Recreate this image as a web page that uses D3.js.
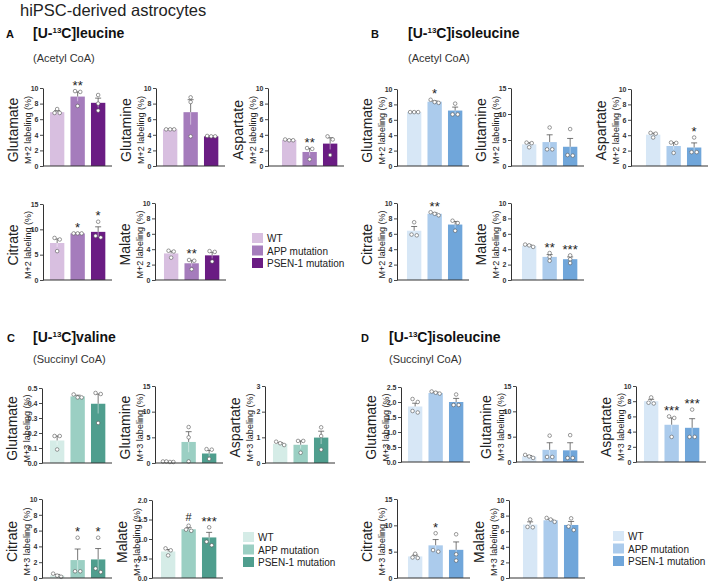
<html>
<head>
<style>
  body { margin: 0; background: white; }
  svg text { font-family: "Liberation Sans", Arial, sans-serif; }
</style>
<script src="https://d3js.org/d3.v7.min.js"></script>
</head>
<body>
<script>
// groups and metabolites
var groups = ["WT", "APP mutation", "PSEN-1 mutation"];
var metabolites = ["Glutamate", "Glutamine", "Aspartate", "Citrate", "Malate"];

// A: [U-13C]leucine (Acetyl CoA), M+2
var leucineMeans = [[6.9, 8.9, 8.1], [4.7, 6.9, 3.8], [3.33, 1.8, 2.87], [7.3, 9.2, 9.5], [3.45, 2.17, 3.2]];
var leucineSems = [[0.2, 0.6, 0.6], [0.05, 1.6, 0.03], [0.05, 0.45, 0.75], [0.8, 0.05, 1.0], [0.28, 0.38, 0.4]];
var leucinePoints = [
  [[7.3, 6.8, 6.8], [9.6, 9.5, 7.7], [9.1, 8.0, 7.1]],
  [[4.7, 4.7, 4.7], [8.8, 8.2, 3.8], [3.8, 3.8, 3.85]],
  [[3.4, 3.3, 3.3], [2.3, 2.2, 0.85], [3.8, 3.4, 1.4]],
  [[8.3, 8.0, 5.7], [9.2, 9.2, 9.2], [11.5, 8.7, 8.4]],
  [[3.8, 3.7, 2.9], [2.6, 2.5, 1.4], [3.75, 3.65, 2.4]]
];
var leucineSig = [["", "**", ""], ["", "", ""], ["", "**", ""], ["", "*", "*"], ["", "**", ""]];
var leucineTicks = [[0, 2, 4, 6, 8, 10], [0, 2, 4, 6, 8, 10], [0, 2, 4, 6, 8, 10], [0, 5, 10, 15], [0, 2, 4, 6, 8, 10]];

// B: [U-13C]isoleucine (Acetyl CoA), M+2
var isoAcetylMeans = [[7.0, 8.35, 7.2], [4.17, 4.6, 3.7], [4.07, 2.6, 2.4], [6.4, 8.6, 7.2], [4.45, 3.0, 2.7]];
var isoAcetylSems = [[0.03, 0.1, 0.45], [0.3, 1.4, 1.6], [0.2, 0.45, 0.6], [0.55, 0.12, 0.4], [0.1, 0.3, 0.3]];
var isoAcetylPoints = [
  [[7.0, 7.0, 7.0], [8.6, 8.3, 8.2], [8.1, 6.7, 6.7]],
  [[4.5, 4.4, 3.6], [7.4, 3.2, 3.2], [7.1, 2.1, 2.0]],
  [[4.3, 4.2, 3.7], [3.05, 3.0, 1.7], [3.7, 1.8, 1.8]],
  [[7.5, 5.9, 5.8], [8.8, 8.6, 8.4], [7.7, 7.4, 6.4]],
  [[4.6, 4.5, 4.3], [3.5, 3.0, 2.5], [3.2, 2.7, 2.2]]
];
var isoAcetylSig = [["", "*", ""], ["", "", ""], ["", "", "*"], ["", "**", ""], ["", "**", "***"]];
var isoAcetylTicks = [[0, 2, 4, 6, 8, 10], [0, 5, 10, 15], [0, 2, 4, 6, 8, 10], [0, 2, 4, 6, 8, 10], [0, 2, 4, 6, 8, 10]];

// C: [U-13C]valine (Succinyl CoA), M+3
var valineMeans = [[0.15, 0.444, 0.395], [0.25, 4.1, 1.85], [0.75, 0.71, 0.99], [0.33, 2.27, 2.35], [0.68, 1.25, 1.04]];
var valineSems = [[0.03, 0.008, 0.065], [0.03, 2.0, 0.6], [0.04, 0.15, 0.25], [0.12, 1.4, 1.38], [0.05, 0.04, 0.13]];
var valinePoints = [
  [[0.18, 0.18, 0.09], [0.457, 0.437, 0.437], [0.467, 0.46, 0.267]],
  [[0.3, 0.2, 0.2, 0.3], [7.0, 5.0, 0.3], [2.7, 2.6, 0.8]],
  [[0.83, 0.77, 0.7], [0.86, 0.86, 0.4], [1.39, 1.05, 0.52]],
  [[0.55, 0.3, 0.15], [5.1, 0.85, 0.85], [5.1, 1.2, 0.75]],
  [[0.76, 0.71, 0.58], [1.34, 1.24, 1.21], [1.3, 0.93, 0.84]]
];
var valineSig = [["", "", ""], ["", "", ""], ["", "", ""], ["", "*", "*"], ["", "#", "***"]];
var valineTicks = [[0, 0.1, 0.2, 0.3, 0.4, 0.5], [0, 5, 10, 15], [0, 1, 2, 3], [0, 2, 4, 6, 8, 10], [0, 0.5, 1, 1.5, 2]];

// D: [U-13C]isoleucine (Succinyl CoA), M+3
var isoSuccMeans = [[1.85, 2.3, 2.0], [1.1, 2.4, 2.3], [8.0, 4.9, 4.5], [4.1, 6.2, 5.35], [6.85, 7.4, 6.8]];
var isoSuccSems = [[0.11, 0.03, 0.12], [0.17, 1.4, 1.5], [0.25, 0.9, 1.2], [0.25, 1.1, 1.5], [0.35, 0.12, 0.45]];
var isoSuccPoints = [
  [[2.1, 2.0, 1.7, 1.65], [2.35, 2.31, 2.28], [2.25, 1.9, 1.9]],
  [[1.4, 1.1, 0.8], [5.2, 1.0, 1.0], [5.3, 0.8, 0.8]],
  [[8.5, 7.8, 7.7], [6.0, 5.8, 3.3], [6.9, 3.3, 3.3]],
  [[4.6, 3.9, 3.8], [8.5, 5.3, 5.0], [8.3, 4.5, 3.3]],
  [[7.5, 6.55, 6.5], [7.7, 7.5, 7.2], [7.65, 6.6, 6.15]]
];
var isoSuccSig = [["", "", ""], ["", "", ""], ["", "***", "***"], ["", "*", ""], ["", "", ""]];
var isoSuccTicks = [[0, 0.5, 1, 1.5, 2, 2.5], [0, 5, 10, 15], [0, 2, 4, 6, 8, 10], [0, 5, 10, 15], [0, 2, 4, 6, 8, 10]];

// colours
var purple = ["#d8bfe0", "#a57cbc", "#6a1c83"];
var blue   = ["#d7e7f6", "#abcbec", "#70a6da"];
var teal   = ["#d5ece7", "#9bcfc3", "#4f9e8e"];

// panel layout: box = [axis x, first bar x, top y, bottom y]
var panels = [
  { letter: "A", lx: 6, tx: 33, ty: 38, amino: "leucine", sub: "(Acetyl CoA)", sy: 62, mass: "M+2", colors: purple,
    means: leucineMeans, sems: leucineSems, points: leucinePoints, sig: leucineSig, ticks: leucineTicks,
    boxes: [[43, 50, 88, 166], [156, 163, 88, 166], [268, 282, 88, 166], [43, 50, 204, 280], [155, 164, 203, 280]],
    legend: [252, 238] },
  { letter: "B", lx: 371, tx: 408, ty: 38, amino: "isoleucine", sub: "(Acetyl CoA)", sy: 62, mass: "M+2", colors: blue,
    means: isoAcetylMeans, sems: isoAcetylSems, points: isoAcetylPoints, sig: isoAcetylSig, ticks: isoAcetylTicks,
    boxes: [[397, 407, 89, 166], [511, 522, 88, 166], [631, 646, 89, 166], [397, 407, 203, 280], [511, 522, 203, 280]],
    legend: null },
  { letter: "C", lx: 7, tx: 33, ty: 342, amino: "valine", sub: "(Succinyl CoA)", sy: 363, mass: "M+3", colors: teal,
    means: valineMeans, sems: valineSems, points: valinePoints, sig: valineSig, ticks: valineTicks,
    boxes: [[42, 50, 388, 463], [155, 161, 386, 463], [265, 273, 386, 463], [42, 50, 499, 578], [152, 161, 500, 578]],
    legend: [243, 537] },
  { letter: "D", lx: 361, tx: 389, ty: 342, amino: "isoleucine", sub: "(Succinyl CoA)", sy: 363, mass: "M+3", colors: blue,
    means: isoSuccMeans, sems: isoSuccSems, points: isoSuccPoints, sig: isoSuccSig, ticks: isoSuccTicks,
    boxes: [[401, 408, 387, 462], [516, 522, 386, 462], [636, 644, 386, 462], [397, 408, 499, 578], [509, 523, 500, 578]],
    legend: [613, 536] }
];

var svg = d3.select("body").append("svg")
  .attr("width", 708)
  .attr("height", 581);

svg.append("text")
  .attr("x", 20).attr("y", 16)
  .style("font-size", "16.5px").style("fill", "#222")
  .text("hiPSC-derived astrocytes");

// spread dots that sit at (nearly) the same height
function swarm(ys) {
  var idx = ys.map(function(v, i) { return i; }).sort(function(a, b) { return ys[a] - ys[b]; });
  var off = new Array(ys.length).fill(0);
  var spreads = { 1: [0], 2: [-2.6, 2.6], 3: [-4, 0, 4], 4: [-5.2, -1.8, 1.8, 5.2] };
  var cluster = [idx[0]];
  function flush() {
    var s = spreads[cluster.length] || spreads[4];
    cluster.forEach(function(k, j) { off[k] = s[j]; });
  }
  for (var i = 1; i < idx.length; i++) {
    if (ys[idx[i]] - ys[cluster[cluster.length - 1]] < 3.6) cluster.push(idx[i]);
    else { flush(); cluster = [idx[i]]; }
  }
  flush();
  return off;
}

function drawChart(p, i) {
  var box = p.boxes[i], ax = box[0], bx = box[1], top = box[2], bottom = box[3];
  var ticks = p.ticks[i];
  var g = svg.append("g");

  var y = d3.scaleLinear().domain([0, d3.max(ticks)]).range([bottom, top]);
  var x = d3.scaleBand().domain(groups).range([bx - 3.1, bx + 58.4])
    .paddingInner(0.3).paddingOuter(0.15);
  var bw = x.bandwidth();

  var fmt = ticks.some(function(t) { return t % 1 !== 0; }) ? d3.format(".1f") : d3.format("d");

  // bars
  g.selectAll("rect.bar").data(groups).enter().append("rect")
    .attr("x", function(d) { return x(d); })
    .attr("y", function(d, j) { return y(p.means[i][j]); })
    .attr("width", bw)
    .attr("height", function(d, j) { return bottom - y(p.means[i][j]); })
    .style("fill", function(d, j) { return p.colors[j]; });

  groups.forEach(function(grp, j) {
    var cx = x(grp) + bw / 2;
    var m = p.means[i][j], s = p.sems[i][j];
    // error bar
    g.append("line").attr("x1", cx).attr("x2", cx).attr("y1", y(m)).attr("y2", y(m + s))
      .style("stroke", "#555").style("stroke-width", 0.8);
    g.append("line").attr("x1", cx - 3).attr("x2", cx + 3).attr("y1", y(m + s)).attr("y2", y(m + s))
      .style("stroke", "#555").style("stroke-width", 0.8);
    g.append("line").attr("x1", cx).attr("x2", cx).attr("y1", y(m)).attr("y2", y(Math.max(0, m - s)))
      .style("stroke", "#fff").style("stroke-opacity", 0.6).style("stroke-width", 0.8);

    // individual points
    var pts = p.points[i][j];
    var ys = pts.map(function(v) { return y(v); });
    var off = swarm(ys);
    g.selectAll(null).data(pts).enter().append("circle")
      .attr("cx", function(d, k) { return cx + off[k]; })
      .attr("cy", function(d) { return y(d); })
      .attr("r", 1.8)
      .style("fill", "white").style("stroke", "#555").style("stroke-width", 0.6);

    // significance
    var mark = p.sig[i][j];
    if (mark) {
      var topmost = Math.min(d3.min(ys), y(m + s));
      g.append("text")
        .attr("x", cx).attr("y", mark === "#" ? topmost - 5 : topmost - 1.5)
        .attr("text-anchor", "middle")
        .style("font-size", mark === "#" ? "11px" : "13px")
        .style("fill", "#222")
        .text(mark);
    }
  });

  // axes
  var yAxis = g.append("g")
    .attr("transform", "translate(" + ax + ",0)")
    .call(d3.axisLeft(y).tickValues(ticks).tickFormat(fmt).tickSize(3).tickSizeOuter(0).tickPadding(1.5));
  yAxis.select(".domain").style("stroke", "#333").style("stroke-width", 1);
  yAxis.selectAll(".tick line").style("stroke", "#333").style("stroke-width", 0.9);
  yAxis.selectAll(".tick text")
    .style("font-size", "7px").style("font-weight", "bold").style("fill", "#333")
    .style("font-family", "'Liberation Sans', Arial, sans-serif");

  g.append("line")
    .attr("x1", ax).attr("x2", bx + 62)
    .attr("y1", bottom).attr("y2", bottom)
    .style("stroke", "#333").style("stroke-width", 1);

  // axis titles
  var cy = (top + bottom) / 2 + 3;
  g.append("text")
    .attr("transform", "translate(" + (ax - 25) + "," + cy + ") rotate(-90)")
    .attr("text-anchor", "middle")
    .style("font-size", "14px").style("fill", "#222")
    .text(metabolites[i]);
  g.append("text")
    .attr("transform", "translate(" + (ax - 12) + "," + cy + ") rotate(-90)")
    .attr("text-anchor", "middle")
    .style("font-size", "9px").style("fill", "#222")
    .text(p.mass + " labeling (%)");
}

panels.forEach(function(p) {
  svg.append("text")
    .attr("x", p.lx).attr("y", p.ty)
    .style("font-size", "11px").style("font-weight", "bold").style("fill", "#111")
    .text(p.letter);

  var t = svg.append("text")
    .attr("x", p.tx).attr("y", p.ty)
    .style("font-size", "14px").style("font-weight", "bold").style("fill", "#111");
  t.append("tspan").text("[U-");
  t.append("tspan").attr("dy", -5).style("font-size", "8px").text("13");
  t.append("tspan").attr("dy", 5).text("C]" + p.amino);

  svg.append("text")
    .attr("x", p.tx).attr("y", p.sy)
    .style("font-size", "11px").style("fill", "#333")
    .text(p.sub);

  metabolites.forEach(function(m, i) { drawChart(p, i); });

  if (p.legend) {
    var lg = svg.append("g").attr("transform", "translate(" + p.legend[0] + "," + p.legend[1] + ")");
    groups.forEach(function(grp, j) {
      lg.append("rect")
        .attr("x", 0).attr("y", j * 12.5 - 5)
        .attr("width", 11).attr("height", 10)
        .style("fill", p.colors[j]);
      lg.append("text")
        .attr("x", 15).attr("y", j * 12.5 + 4)
        .style("font-size", "10px").style("fill", "#222")
        .text(grp);
    });
  }
});
</script>
</body>
</html>
